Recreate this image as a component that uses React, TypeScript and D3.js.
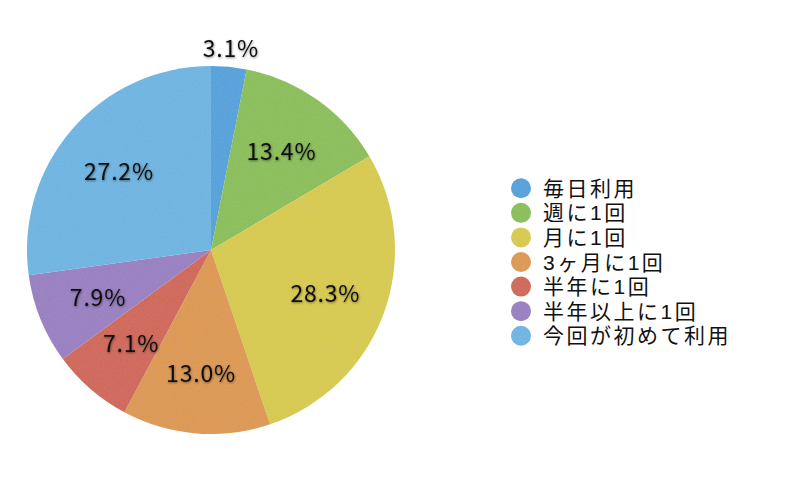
import React from "react";
import * as d3 from "d3";

const WIDTH = 800;
const HEIGHT = 500;
const CX = 211;
const CY = 250;
const RADIUS = 184;
const LABEL_R = 122;

const categories = ["毎日利用", "週に1回", "月に1回", "3ヶ月に1回", "半年に1回", "半年以上に1回", "今回が初めて利用"];
const values = [3.1, 13.4, 28.3, 13.0, 7.1, 7.9, 27.2];
const colors = ["#4a9fd9", "#86bc4f", "#d6c843", "#db9447", "#cd6150", "#957ac0", "#67b2e0"];

const FONT = "'Noto Sans CJK JP', 'Noto Sans', sans-serif";
const LEGEND_FONT = "'Liberation Sans', 'Noto Sans CJK JP', sans-serif";

export default function App() {
  const pie = d3.pie<number>().sort(null).value((d) => d);
  const arcs = pie(values);
  const arcGen = d3.arc<d3.PieArcDatum<number>>().innerRadius(0).outerRadius(RADIUS);
  const labelArc = d3.arc<d3.PieArcDatum<number>>().innerRadius(LABEL_R).outerRadius(LABEL_R);
  const outerLabelArc = d3.arc<d3.PieArcDatum<number>>().innerRadius(204).outerRadius(204);

  const legendY = d3.scaleBand<number>().domain(d3.range(categories.length)).range([176, 348]);
  const rowY = (i: number) => (legendY(i) || 0) + legendY.bandwidth() / 2;

  return (
    <svg width={WIDTH} height={HEIGHT} style={{ display: "block", margin: -8 }}>
      <defs>
        <filter id="grain" x="0" y="0" width="100%" height="100%">
          <feTurbulence type="fractalNoise" baseFrequency="1.2" numOctaves={1} seed={3} result="noise" />
          <feColorMatrix in="noise" type="matrix"
            values="0 0 0 0 1  0 0 0 0 1  0 0 0 0 1  0 0 0 0.08 0" result="n" />
          <feComposite in="n" in2="SourceGraphic" operator="in" result="nn" />
          <feMerge>
            <feMergeNode in="SourceGraphic" />
            <feMergeNode in="nn" />
          </feMerge>
        </filter>
        <filter id="shadow" x="-20%" y="-30%" width="140%" height="160%">
          <feDropShadow dx="0.5" dy="1" stdDeviation="1" floodColor="#000" floodOpacity="0.45" />
        </filter>
      </defs>
      <rect width={WIDTH} height={HEIGHT} fill="#fff" />
      <g transform={`translate(${CX},${CY})`}>
        <g filter="url(#grain)">
          {arcs.map((a, i) => (
            <path key={i} d={arcGen(a) || ""} fill={colors[i]} />
          ))}
        </g>
        {arcs.map((a, i) => {
          const [x, y] = i === 0 ? outerLabelArc.centroid(a) : labelArc.centroid(a);
          return (
            <text key={i} x={x} y={y} textAnchor="middle" dominantBaseline="central"
              fontFamily={FONT} fontSize={23} letterSpacing={0.8} fill="#111" filter="url(#shadow)">
              {values[i].toFixed(1)}%
            </text>
          );
        })}
      </g>
      <g>
        {categories.map((c, i) => (
          <circle key={c} cx={521} cy={rowY(i)} r={10} fill={colors[i]} filter="url(#grain)" />
        ))}
        {categories.map((c, i) => (
          <text key={c} x={543} y={rowY(i) + 7.5} fontFamily={LEGEND_FONT} fontSize={21}
            letterSpacing={2.5} fill="#111">
            {c}
          </text>
        ))}
      </g>
    </svg>
  );
}
